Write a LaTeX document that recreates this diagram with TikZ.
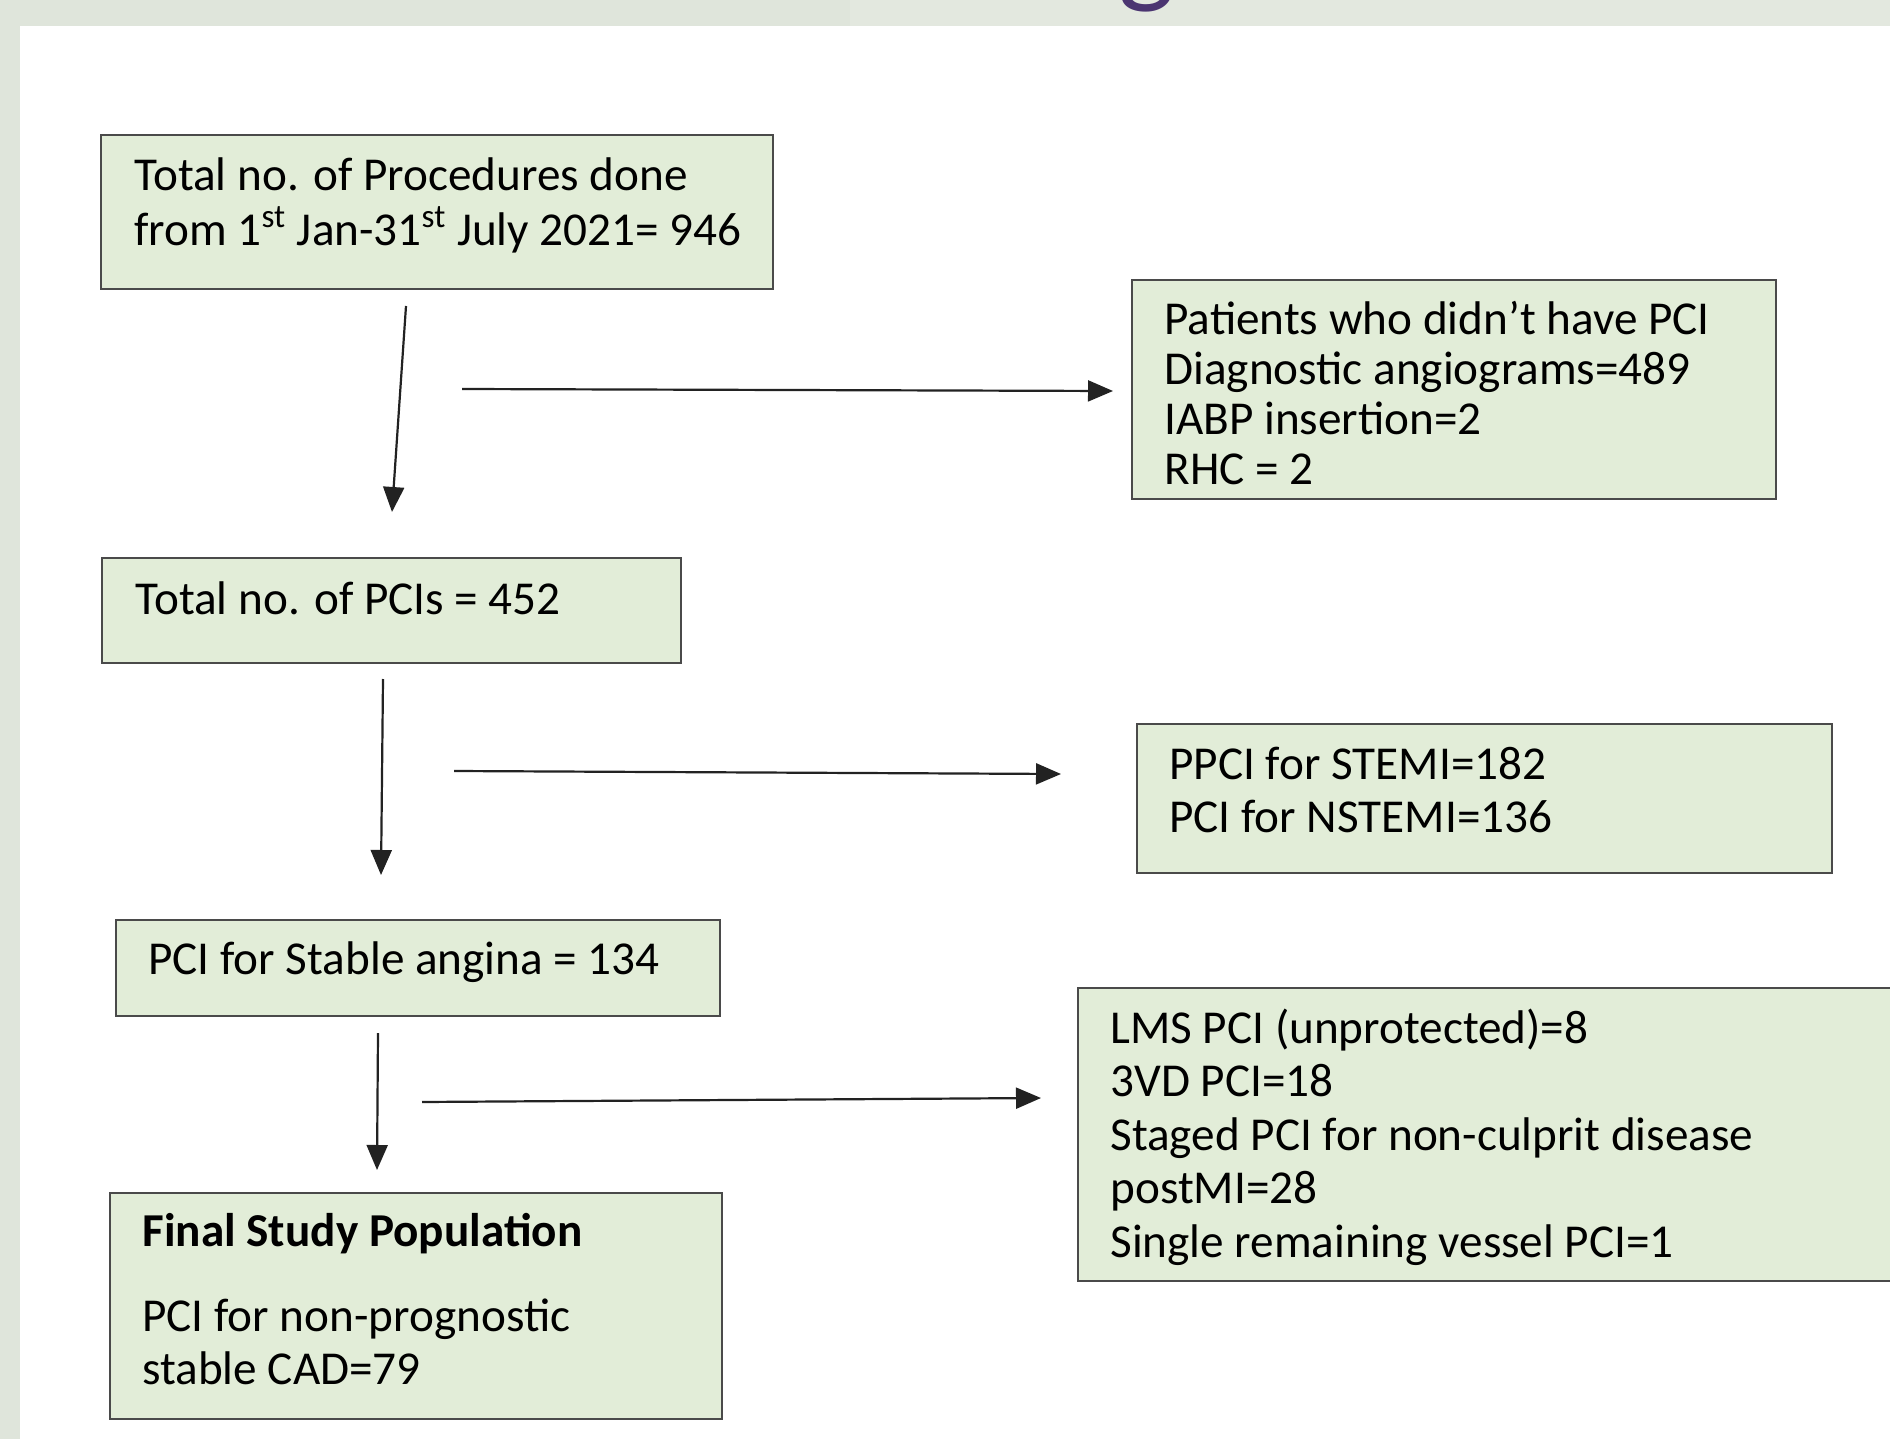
\documentclass[tikz,border=0pt]{standalone}
\usepackage{fontspec}
\setmainfont{Carlito}
\usetikzlibrary{arrows.meta}
\definecolor{bandA}{HTML}{DFE5DB}
\definecolor{bandB}{HTML}{E3E8DF}
\definecolor{boxfill}{HTML}{E2EDD8}
\definecolor{boxline}{HTML}{4A4A4A}
\definecolor{titlepurple}{HTML}{4B3571}
\definecolor{arrowc}{HTML}{222222}
\tikzset{
  stagebox/.style={draw=boxline, line width=1.1pt, fill=boxfill, inner sep=0pt},
  boxtext/.style={anchor=north west, inner sep=0pt, align=left, font=\fontsize{23.6}{27.5}\selectfont},
  flowarrow/.style={draw=arrowc, line width=1.1pt, -{Triangle[length=12.5pt,width=10.5pt]}}
}
\newcommand{\fl}{\rule{0pt}{20pt}}
\begin{document}
\begin{tikzpicture}[x=0.5pt,y=-0.5pt]
\clip (0,0) rectangle (1890,1439);
\useasboundingbox (0,0) rectangle (1890,1439);
% background
\fill[bandA] (0,0) rectangle (850,26);
\fill[bandB] (850,0) rectangle (1890,26);
\fill[bandA] (0,0) rectangle (20,1439);
\fill[white] (20,26) rectangle (1890,1439);
\node[anchor=base west, inner sep=0pt, text=titlepurple, font=\fontsize{60}{60}\selectfont] (titleg) at (1118,-8) {g};
% boxes
\node[stagebox, minimum width=336pt, minimum height=77pt] (A) at (437,212) {};
\node[stagebox, minimum width=322pt, minimum height=109.5pt] (B) at (1454,389.5) {};
\node[stagebox, minimum width=289.5pt, minimum height=52.5pt] (C) at (391.5,610.5) {};
\node[stagebox, minimum width=347.5pt, minimum height=74.5pt] (D) at (1484.5,798.5) {};
\node[stagebox, minimum width=302pt, minimum height=48pt] (E) at (418,968) {};
\node[stagebox, minimum width=416pt, minimum height=146.5pt] (F) at (1494,1134.5) {};
\node[stagebox, minimum width=306pt, minimum height=113pt] (G) at (416,1306) {};
% texts
\node[boxtext, font=\fontsize{23.6}{27.5}\selectfont] (At) at (134,150) {\fl Total no. of Procedures done\\from 1\textsuperscript{st} Jan-31\textsuperscript{st} July 2021= 946};
\node[boxtext, font=\fontsize{23.6}{25}\selectfont] (Bt) at (1164,294) {\fl Patients who didn’t have PCI\\Diagnostic angiograms=489\\IABP insertion=2\\RHC = 2};
\node[boxtext] (Ct) at (135,574) {\fl Total no. of PCIs = 452};
\node[boxtext, font=\fontsize{23.6}{26.5}\selectfont] (Dt) at (1169,739) {\fl PPCI for STEMI=182\\PCI for NSTEMI=136};
\node[boxtext] (Et) at (148,934) {\fl PCI for Stable angina = 134};
\node[boxtext, font=\fontsize{23.6}{26.75}\selectfont] (Ft) at (1110,1003) {\fl LMS PCI (unprotected)=8\\3VD PCI=18\\Staged PCI for non-culprit disease\\postMI=28\\Single remaining vessel PCI=1};
\node[boxtext, font=\fontsize{23.6}{26.5}\selectfont] (Gt) at (142,1206) {\fl\textbf{Final Study Population}\\[16pt]PCI for non-prognostic\\stable CAD=79};
% arrows
\coordinate (a1s) at (406,306); \coordinate (a1e) at (392,512);
\coordinate (a2s) at (462,389); \coordinate (a2e) at (1113,391);
\coordinate (a3s) at (383,679); \coordinate (a3e) at (381,875);
\coordinate (a4s) at (454,771); \coordinate (a4e) at (1061,774);
\coordinate (a5s) at (378,1033); \coordinate (a5e) at (377,1170);
\coordinate (a6s) at (422,1102); \coordinate (a6e) at (1041,1098);
\draw[flowarrow] (a1s) -- (a1e);
\draw[flowarrow] (a2s) -- (a2e);
\draw[flowarrow] (a3s) -- (a3e);
\draw[flowarrow] (a4s) -- (a4e);
\draw[flowarrow] (a5s) -- (a5e);
\draw[flowarrow] (a6s) -- (a6e);
\end{tikzpicture}
\end{document}
